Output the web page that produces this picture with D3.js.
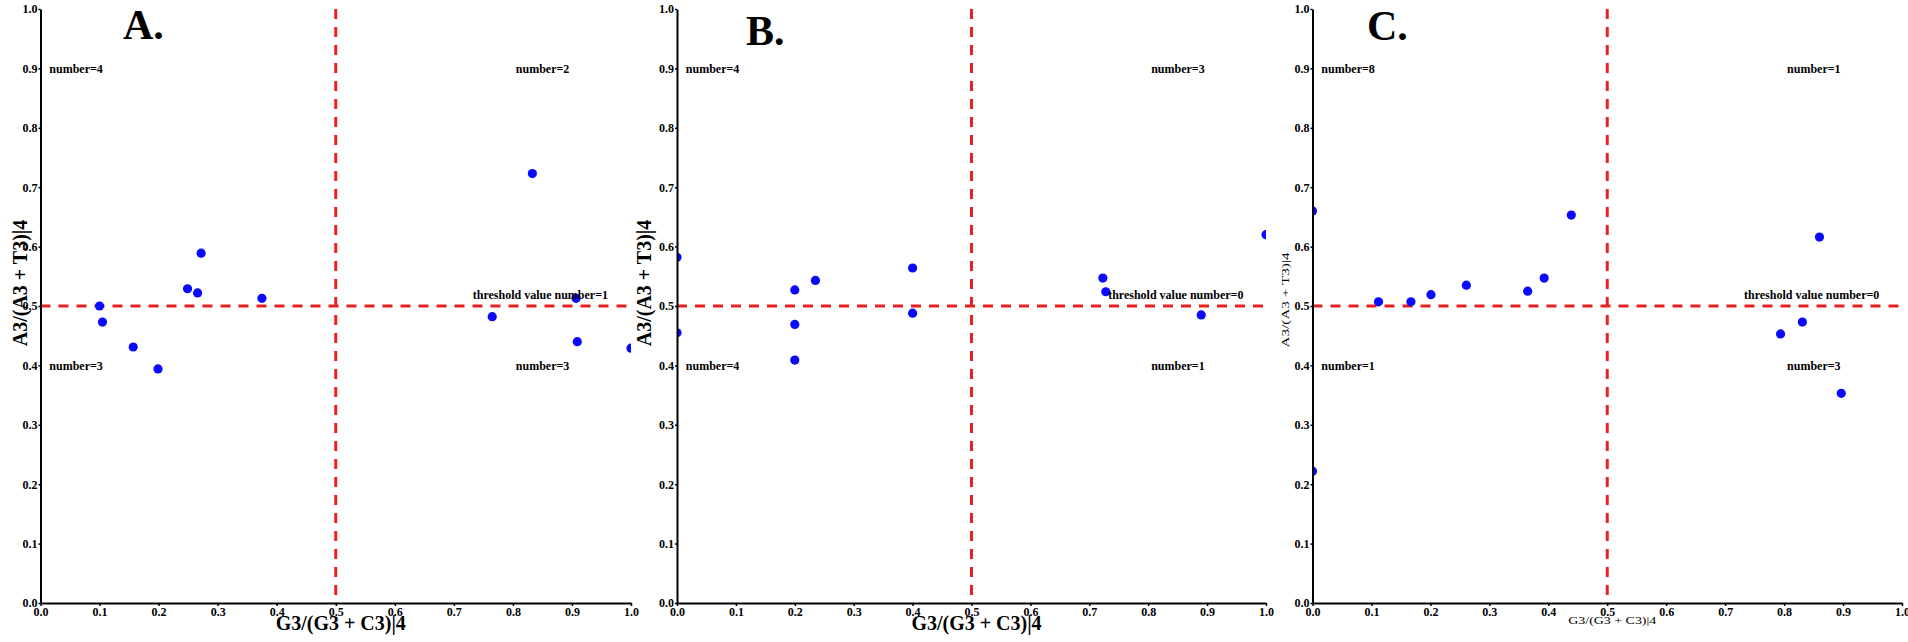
<!DOCTYPE html>
<html>
<head>
<meta charset="utf-8">
<script src="https://cdn.jsdelivr.net/npm/d3@7"></script>
<style>
  body { margin: 0; background: #fff; }
  svg { display: block; }
  text { font-family: "Liberation Serif", "Times New Roman", serif; }
</style>
</head>
<body>
<svg id="chart" width="1908" height="642"></svg>
<script>
// tick values shared by both axes
var tickValues = [0.0, 0.1, 0.2, 0.3, 0.4, 0.5, 0.6, 0.7, 0.8, 0.9, 1.0];
var panelNames = ["A.", "B.", "C."];
var xTitle = "G3/(G3 + C3)|4";
var yTitle = "A3/(A3 + T3)|4";
var threshold = 0.5;

// panel A points
var aX = [0.100, 0.105, 0.157, 0.199, 0.249, 0.266, 0.272, 0.375, 0.765, 0.833, 0.907, 0.909, 1.000];
var aY = [0.500, 0.473, 0.431, 0.394, 0.529, 0.522, 0.589, 0.513, 0.482, 0.723, 0.513, 0.440, 0.429];
// panel B points
var bX = [0.000, 0.000, 0.200, 0.200, 0.200, 0.235, 0.400, 0.400, 0.723, 0.728, 0.890, 1.000];
var bY = [0.582, 0.455, 0.527, 0.469, 0.409, 0.543, 0.564, 0.488, 0.547, 0.524, 0.485, 0.620];
// panel C points
var cX = [0.000, 0.000, 0.112, 0.167, 0.201, 0.261, 0.365, 0.393, 0.439, 0.860, 0.794, 0.831, 0.897];
var cY = [0.660, 0.222, 0.507, 0.507, 0.519, 0.535, 0.525, 0.547, 0.653, 0.616, 0.453, 0.473, 0.353];

// quadrant counts: upper-left, upper-right, lower-left, lower-right
var aCounts = [4, 2, 3, 3];
var bCounts = [4, 3, 4, 1];
var cCounts = [8, 1, 1, 3];
var thresholdCounts = [1, 0, 0];

var xs = [aX, bX, cX], ys = [aY, bY, cY], counts = [aCounts, bCounts, cCounts];

// layout of the three panels (pixels)
var layout = [
  { left: 40.5, right: 631, titleX: 123, titleY: 39, yLabX: 20, yLabY: 283, xLabY: 630, small: false },
  { left: 677, right: 1266, titleX: 746, titleY: 45, yLabX: 644, yLabY: 283, xLabY: 630, small: false },
  { left: 1312.5, right: 1902, titleX: 1367, titleY: 40, yLabX: 1285, yLabY: 300, xLabY: 624, small: true }
];
var plotTop = 9, plotBottom = 603;
var red = "#e8201f", blue = "#0a0aff";

var svg = d3.select("#chart");

layout.forEach(function (p, i) {
  var x = d3.scaleLinear().domain([0, 1]).range([p.left, p.right]);
  var y = d3.scaleLinear().domain([0, 1]).range([plotBottom, plotTop]);
  var g = svg.append("g");

  var clipId = "clip" + i;
  svg.append("clipPath").attr("id", clipId)
    .append("rect")
    .attr("x", x(0)).attr("y", y(1))
    .attr("width", x(1) - x(0)).attr("height", y(0) - y(1));

  // dashed threshold lines
  g.append("line")
    .attr("x1", x(0)).attr("x2", x(1))
    .attr("y1", y(threshold)).attr("y2", y(threshold))
    .attr("stroke", red).attr("stroke-width", 3)
    .attr("stroke-dasharray", "10,8");
  g.append("line")
    .attr("x1", x(threshold)).attr("x2", x(threshold))
    .attr("y1", y(1)).attr("y2", y(0))
    .attr("stroke", red).attr("stroke-width", 3)
    .attr("stroke-dasharray", "10,8");

  // points
  var pts = xs[i].map(function (d, k) { return { x: d, y: ys[i][k] }; });
  g.append("g").attr("clip-path", "url(#" + clipId + ")")
    .selectAll("circle").data(pts).enter().append("circle")
    .attr("cx", function (d) { return x(d.x); })
    .attr("cy", function (d) { return y(d.y); })
    .attr("r", 4.6)
    .attr("fill", blue);

  // quadrant labels
  var c = counts[i];
  var quad = [
    { t: "number=" + c[0], x: 0.015, y: 0.9 },
    { t: "number=" + c[1], x: 0.805, y: 0.9 },
    { t: "number=" + c[2], x: 0.015, y: 0.4 },
    { t: "number=" + c[3], x: 0.805, y: 0.4 },
    { t: "threshold value number=" + thresholdCounts[i], x: 0.732, y: 0.519 }
  ];
  g.selectAll("text.quad").data(quad).enter().append("text")
    .attr("class", "quad")
    .attr("x", function (d) { return x(d.x); })
    .attr("y", function (d) { return y(d.y); })
    .attr("dy", "0.35em")
    .attr("font-size", 12)
    .attr("font-weight", "bold")
    .text(function (d) { return d.t; });

  // axes
  var fmt = d3.format(".1f");
  var xAxis = g.append("g")
    .attr("transform", "translate(0," + plotBottom + ")")
    .call(d3.axisBottom(x).tickValues(tickValues).tickFormat(fmt)
      .tickSize(3).tickSizeOuter(0).tickPadding(1));
  var yAxis = g.append("g")
    .attr("transform", "translate(" + p.left + ",0)")
    .call(d3.axisLeft(y).tickValues(tickValues).tickFormat(fmt)
      .tickSize(2).tickSizeOuter(0).tickPadding(1));
  [xAxis, yAxis].forEach(function (a) {
    a.select(".domain").attr("stroke", "#000").attr("stroke-width", 2);
    a.selectAll(".tick line").attr("stroke", "#000").attr("stroke-width", 1.5);
    a.selectAll(".tick text")
      .attr("fill", "#000")
      .attr("font-family", "'Liberation Serif', 'Times New Roman', serif")
      .attr("font-size", 12)
      .attr("font-weight", "bold");
  });

  // axis titles
  var xt = g.append("text")
    .attr("x", (p.left + p.right) / 2 + 5)
    .attr("y", p.xLabY)
    .attr("text-anchor", "middle")
    .text(xTitle);
  var yt = g.append("text")
    .attr("transform", "translate(" + p.yLabX + "," + p.yLabY + ") rotate(-90)")
    .attr("text-anchor", "middle")
    .attr("dy", "0.35em")
    .text(yTitle);
  if (p.small) {
    xt.attr("font-size", 11).attr("textLength", 88).attr("lengthAdjust", "spacingAndGlyphs");
    yt.attr("font-size", 11).attr("textLength", 95).attr("lengthAdjust", "spacingAndGlyphs");
  } else {
    xt.attr("font-size", 20).attr("font-weight", "bold");
    yt.attr("font-size", 20).attr("font-weight", "bold");
  }

  // panel letter
  g.append("text")
    .attr("x", p.titleX)
    .attr("y", p.titleY)
    .attr("font-size", 42)
    .attr("font-weight", "bold")
    .text(panelNames[i]);
});
</script>
</body>
</html>
